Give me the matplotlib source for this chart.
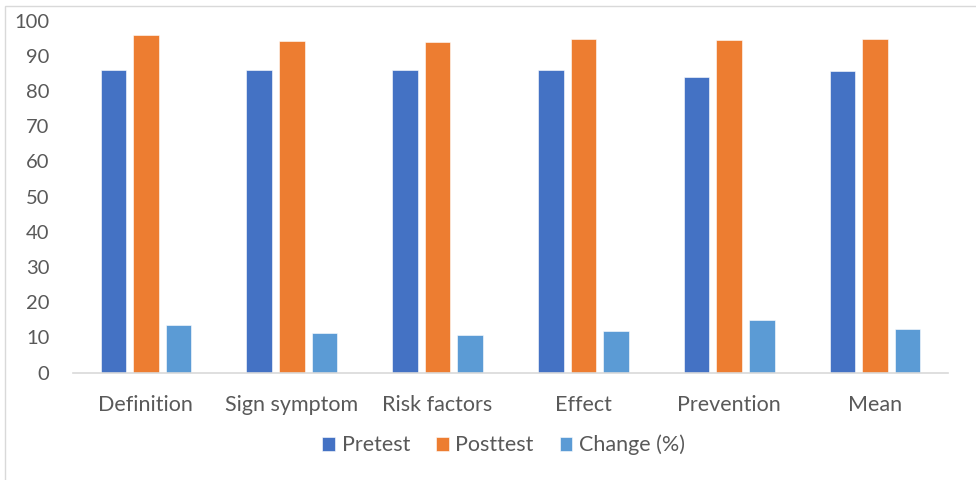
import numpy as np
import matplotlib
matplotlib.use('Agg')
import matplotlib.pyplot as plt
from matplotlib.patches import Rectangle

categories = ['Definition', 'Sign symptom', 'Risk factors', 'Effect', 'Prevention', 'Mean']
pretest = [86, 86, 86, 86, 84, 85.6]
posttest = [96, 94.2, 93.9, 94.7, 94.5, 94.7]
change = [13.5, 11.3, 10.7, 11.8, 14.9, 12.4]
series_names = ['Pretest', 'Posttest', 'Change (%)']
colors = ['#4472c4', '#ed7d31', '#5b9bd5']

plt.rcParams['font.family'] = ['Lato', 'DejaVu Sans']
text_color = '#595959'

fig = plt.figure(figsize=(9.76, 4.8), dpi=100)
ax = fig.add_axes([73 / 976, 1 - 372.7 / 480, (948 - 73) / 976, (372.7 - 20.7) / 480])

# outer chart border
fig.patches.append(Rectangle((5 / 976, -0.05), 1.0, 1 - 6 / 480 + 0.05,
                             transform=fig.transFigure, fill=False,
                             edgecolor='#d9d9d9', linewidth=1.0))

x = np.arange(len(categories))
step = 0.223
width = 0.175
for i, (vals, name, c) in enumerate(zip([pretest, posttest, change], series_names, colors)):
    ax.bar(x + (i - 1) * step, vals, width, color=c, label=name,
           edgecolor='white', linewidth=0.4)

ax.set_xlim(-0.5, len(categories) - 0.5)
ax.set_ylim(0, 100)
ax.set_yticks(range(0, 101, 10))
ax.set_xticks(x)
ax.set_xticklabels(categories)

for s in ['top', 'right', 'left']:
    ax.spines[s].set_visible(False)
ax.spines['bottom'].set_color('#d9d9d9')
ax.spines['bottom'].set_linewidth(1.2)
ax.tick_params(axis='both', length=0, labelcolor=text_color)
ax.tick_params(axis='y', pad=17, labelsize=14.5)
ax.tick_params(axis='x', pad=16, labelsize=15.5)

ax.legend(loc='center', bbox_to_anchor=(0.516, 1 - 445 / 480), bbox_transform=fig.transFigure,
          ncol=3, frameon=False, fontsize=15.5, labelcolor=text_color,
          handlelength=0.6, handleheight=0.6, handletextpad=0.3, columnspacing=1.2)

fig.savefig('out.png', dpi=100)
